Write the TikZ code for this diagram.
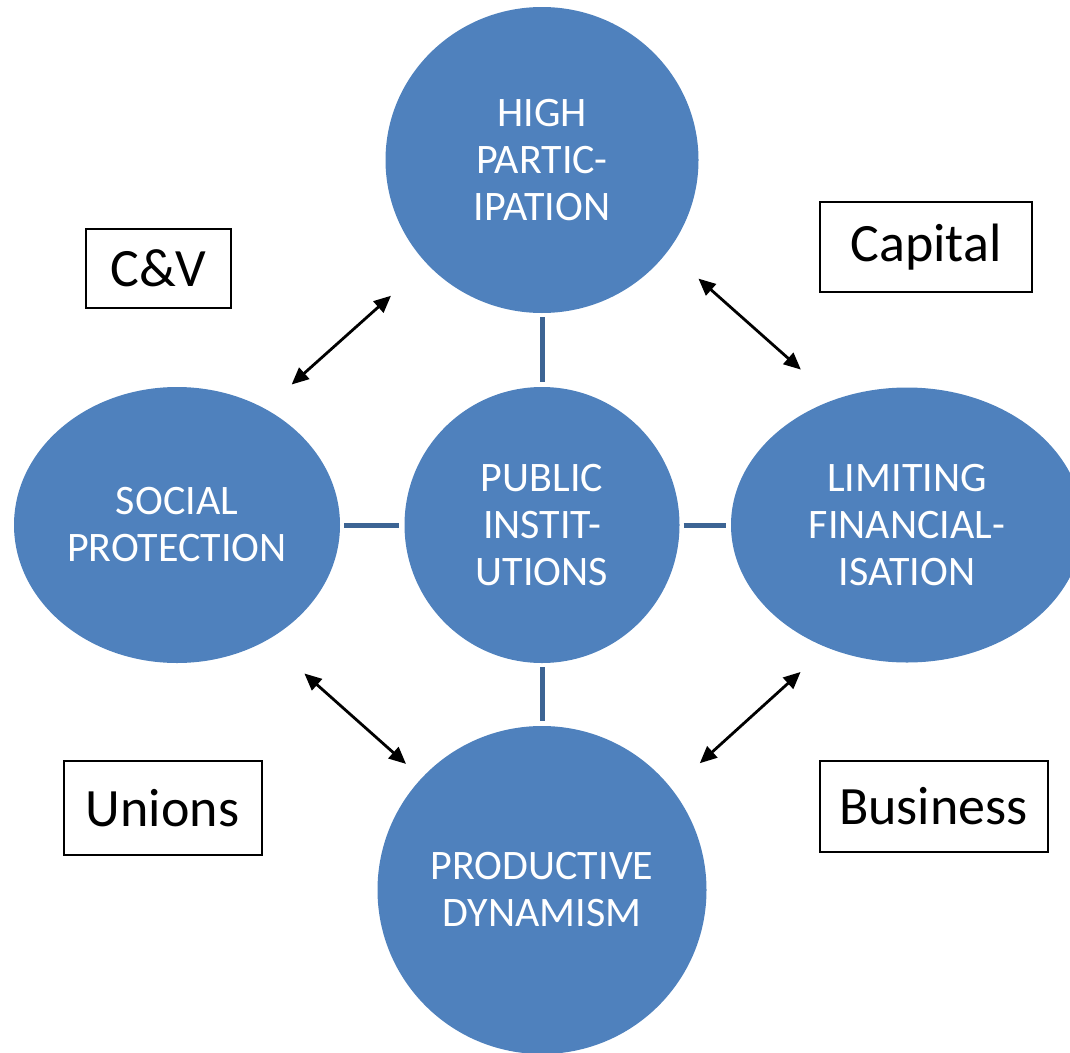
\documentclass[tikz,border=0pt]{standalone}
\usepackage{fontspec}
\setmainfont{Carlito}
\usepackage{tikz}
\usetikzlibrary{positioning,arrows.meta,shapes.geometric}
\definecolor{blobfill}{HTML}{4F81BD}
\definecolor{barline}{HTML}{3C6494}

\begin{document}
\begin{tikzpicture}[x=1pt,y=-1pt,node distance=365pt,on grid,
    blob/.style={ellipse,fill=blobfill,text=white,inner sep=0pt,align=center,
      font=\fontsize{42}{47}\selectfont},
    actor/.style={draw,line width=2pt,inner sep=0pt,font=\fontsize{54}{62}\selectfont},
    bar/.style={draw=barline,line width=5pt,shorten <=4pt,shorten >=5pt},
    >={Triangle[length=17pt,width=15pt]}]
        \useasboundingbox (0,0) rectangle (1070,1052);
        \node[blob,minimum width=275pt,minimum height=276pt] (pi) at (542,525) {PUBLIC\\INSTIT-\\UTIONS};
        \node[blob,minimum width=313pt,minimum height=306pt] (hp) [above=of pi] {HIGH\\PARTIC-\\IPATION};
        \node[blob,minimum width=326pt,minimum height=276pt] (sp) [left=of pi] {SOCIAL\\PROTECTION};
        \node[blob,minimum width=352pt,minimum height=275pt] (lf) [right=of pi] {LIMITING\\FINANCIAL-\\ISATION};
        \node[blob,minimum width=329pt,minimum height=328pt] (pd) [below=of pi] {PRODUCTIVE\\DYNAMISM};
        \node[actor,minimum width=145pt,minimum height=79pt] (cv) at (158.5,268.5) {C\&V};
        \node[actor,minimum width=212pt,minimum height=90pt] (cap) at (926,247) {Capital};
        \node[actor,minimum width=198pt,minimum height=94pt] (un) at (162.5,808) {Unions};
        \node[actor,minimum width=228pt,minimum height=91pt] (bus) at (933.5,806) {Business};
        \path
        (hp) edge[bar] (pi)
        (sp) edge[bar] (pi)
        (pi) edge[bar] (lf)
        (pi) edge[bar] (pd);
        \path[<->,line width=2.8pt]
        (hp.222) edge[shorten <=48pt,shorten >=36pt] (sp.53)
        (hp.324) edge[shorten <=41pt,shorten >=45pt] (lf.120)
        (sp.308) edge[shorten <=50pt,shorten >=21pt] (pd.137)
        (lf.237) edge[shorten <=36pt,shorten >=38pt] (pd.38);
    \end{tikzpicture}
\end{document}
